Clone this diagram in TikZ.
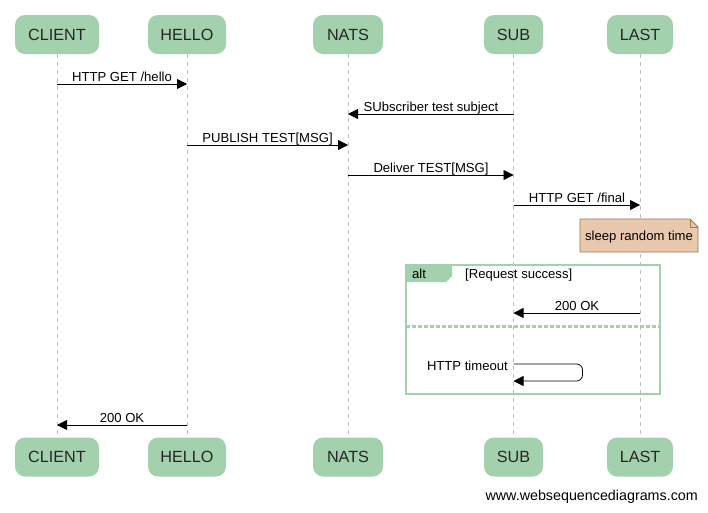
\documentclass[tikz,border=0pt]{standalone}
\usepackage{fontspec}
\setmainfont{Liberation Sans}
\usetikzlibrary{arrows.meta}
\definecolor{actgreen}{RGB}{163,209,173}
\definecolor{notefill}{RGB}{233,201,174}
\definecolor{notedraw}{RGB}{160,120,80}
\definecolor{lifegray}{RGB}{190,190,190}
\begin{document}
\begin{tikzpicture}[x=1pt,y=-1pt,
  actor/.style={fill=actgreen, rounded corners=10pt, minimum height=39pt, inner sep=0pt, font=\fontsize{16.2}{18}\selectfont, text=black!85},
  msg/.style={-{Triangle[length=10pt,width=10pt]}, line width=0.8pt},
  lbl/.style={font=\fontsize{13.1}{15}\selectfont, inner sep=0pt, anchor=base},
  life/.style={lifegray, dash pattern=on 4pt off 4pt, line width=0.8pt}]
\useasboundingbox[fill=white] (0,0) rectangle (708,512);

% actors top
\node[actor, minimum width=84pt] (clientT) at (57,34.5) {CLIENT};
\node[actor, minimum width=78pt] (helloT) at (187,34.5) {HELLO};
\node[actor, minimum width=70pt] (natsT) at (348,34.5) {NATS};
\node[actor, minimum width=59pt] (subT) at (513.5,34.5) {SUB};
\node[actor, minimum width=66pt] (lastT) at (640,34.5) {LAST};
% actors bottom
\node[actor, minimum width=84pt] (clientB) at (57,457) {CLIENT};
\node[actor, minimum width=78pt] (helloB) at (187,457) {HELLO};
\node[actor, minimum width=70pt] (natsB) at (348,457) {NATS};
\node[actor, minimum width=59pt] (subB) at (513.5,457) {SUB};
\node[actor, minimum width=66pt] (lastB) at (640,457) {LAST};

% lifelines
\draw[life] (clientT.south) -- (clientB.north);
\draw[life] (helloT.south) -- (helloB.north);
\draw[life] (natsT.south) -- (natsB.north);
\draw[life] (subT.south) -- (subB.north);
\draw[life] (lastT.south) -- (lastB.north);

% note
\draw[notedraw, fill=notefill, line width=0.8pt] (580,219) -- (690,219) -- (698,227) -- (698,252) -- (580,252) -- cycle;
\draw[notedraw, line width=0.8pt] (690,219) -- (690,227) -- (698,227);
\node[lbl] (notetxt) at (639,240) {sleep random time};

% alt frame
\draw[actgreen, line width=2pt] (406,265) rectangle (660,394);
\fill[actgreen] (406,265) -- (452,265) -- (452,276) -- (446,282) -- (406,282) -- cycle;
\draw[actgreen, line width=3pt, dash pattern=on 4pt off 2pt] (406,326) -- (660,326);
\node[lbl, anchor=base west] (alttxt) at (412,278) {alt};
\node[lbl, anchor=base west] (condtxt) at (465,278) {[Request success]};

% message coordinates
\coordinate (m1a) at (clientT |- 0,84);  \coordinate (m1b) at (helloT |- 0,84);
\coordinate (m2a) at (subT |- 0,114);    \coordinate (m2b) at (natsT |- 0,114);
\coordinate (m3a) at (helloT |- 0,145);  \coordinate (m3b) at (natsT |- 0,145);
\coordinate (m4a) at (natsT |- 0,175);   \coordinate (m4b) at (subT |- 0,175);
\coordinate (m5a) at (subT |- 0,205);    \coordinate (m5b) at (lastT |- 0,205);
\coordinate (m6a) at (lastT |- 0,313);   \coordinate (m6b) at (subT |- 0,313);
\coordinate (m7a) at (subT |- 0,364);    \coordinate (m7b) at (subT |- 0,381);
\coordinate (m8a) at (helloT |- 0,425);  \coordinate (m8b) at (clientT |- 0,425);

% messages
\draw[msg] (m1a) -- (m1b);
\draw[msg] (m2a) -- (m2b);
\draw[msg] (m3a) -- (m3b);
\draw[msg] (m4a) -- (m4b);
\draw[msg] (m5a) -- (m5b);
\draw[msg] (m6a) -- (m6b);
\draw[msg, rounded corners=6pt] (m7a) -- ++(69,0) -- ++(0,17) -- (m7b);
\draw[msg] (m8a) -- (m8b);

% labels
\node[lbl] (t1) at (122,81) {HTTP GET /hello};
\node[lbl] (t2) at (431,111) {SUbscriber test subject};
\node[lbl] (t3) at (267.5,142) {PUBLISH TEST[MSG]};
\node[lbl] (t4) at (431,172) {Deliver TEST[MSG]};
\node[lbl] (t5) at (577,202) {HTTP GET /final};
\node[lbl] (t6) at (577,310) {200 OK};
\node[lbl, anchor=base east] (t7) at (508,370) {HTTP timeout};
\node[lbl] (t8) at (122,422) {200 OK};

% watermark
\node[lbl, anchor=base east, font=\fontsize{14.3}{16}\selectfont] (wm) at (698,500) {www.websequencediagrams.com};
\end{tikzpicture}
\end{document}
